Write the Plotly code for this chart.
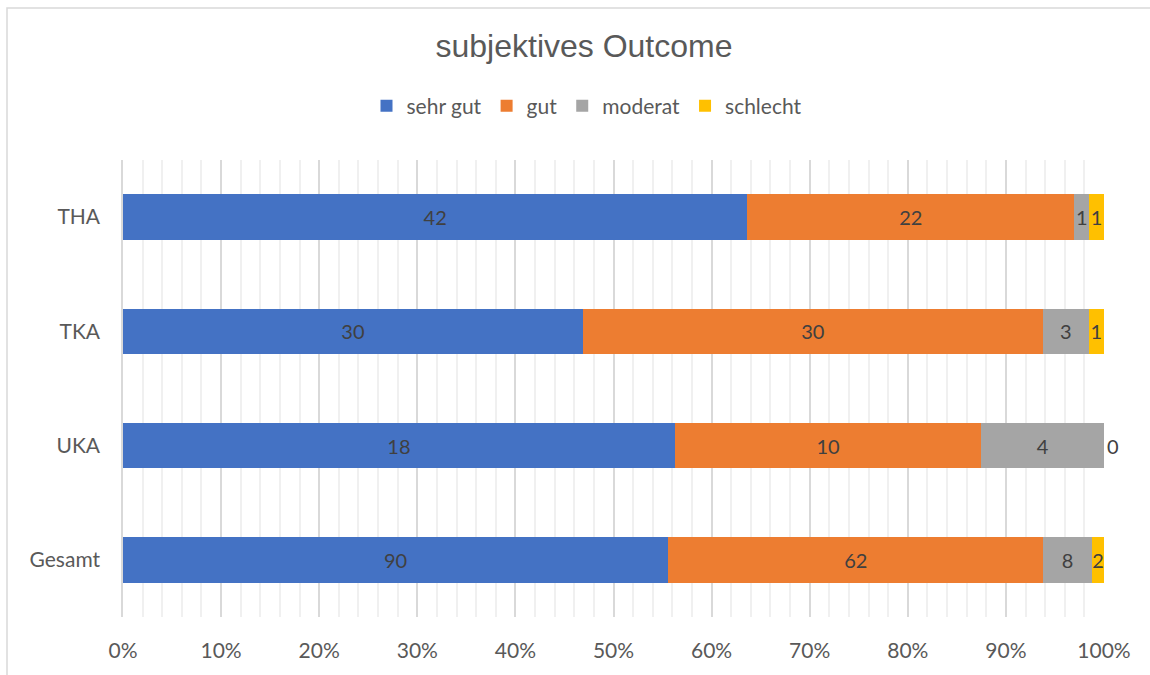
import plotly.graph_objects as go

categories = ["THA", "TKA", "UKA", "Gesamt"]
sehr_gut = [42, 30, 18, 90]
gut = [22, 30, 10, 62]
moderat = [1, 3, 4, 8]
schlecht = [1, 1, 0, 2]
tick_vals = [0, 10, 20, 30, 40, 50, 60, 70, 80, 90, 100]
tick_text = ["0%", "10%", "20%", "30%", "40%", "50%", "60%", "70%", "80%", "90%", "100%"]

series = [
    ("sehr gut", sehr_gut, "#4472C4"),
    ("gut", gut, "#ED7D31"),
    ("moderat", moderat, "#A5A5A5"),
    ("schlecht", schlecht, "#FFC000"),
]

FONT = "Lato, 'Open Sans', sans-serif"
TXT = "#404040"

fig = go.Figure()
for name, vals, col in series:
    positions = ["outside" if v == 0 else "inside" for v in vals]
    fig.add_trace(go.Bar(
        name=name, y=categories, x=vals, orientation="h",
        marker=dict(color=col, line=dict(width=0)),
        text=[str(v) for v in vals], textposition=positions,
        insidetextanchor="middle", constraintext="none",
        textfont=dict(color=TXT, size=20, family=FONT),
        outsidetextfont=dict(color=TXT, size=20, family=FONT),
        cliponaxis=False,
    ))

L, R, T, B = 123, 1104, 160, 617
pw, ph = R - L, B - T

fig.update_layout(
    width=1150, height=675,
    margin=dict(l=L, r=1150 - R, t=T, b=675 - B, pad=0),
    barmode="stack", barnorm="percent", bargap=0.6,
    paper_bgcolor="white", plot_bgcolor="white",
    uniformtext=dict(minsize=20, mode="show"),
    font=dict(family=FONT, color="#595959", size=21),
    title=dict(text="subjektives Outcome", x=(584 - L) / pw, xref="paper",
               xanchor="center", y=1 - 46 / 675, yanchor="middle",
               font=dict(family="'Liberation Sans', Arial, sans-serif", size=32, color="#595959")),
    legend=dict(orientation="h", x=(587 - L) / pw, xanchor="center", y=(B - 106) / ph,
                yanchor="middle", xref="paper", yref="paper",
                font=dict(family=FONT, size=21, color="#595959"),
                traceorder="normal", itemwidth=30, bgcolor="rgba(0,0,0,0)"),
    xaxis=dict(range=[0, 100], tickvals=tick_vals, ticktext=tick_text,
               showgrid=True, gridcolor="#d9d9d9", gridwidth=1.5,
               minor=dict(dtick=2, showgrid=True, gridcolor="#f0f0f0", gridwidth=1.5),
               zeroline=False, showline=False, ticks="",
               tickfont=dict(size=21, color="#595959", family=FONT), ticklabelstandoff=19),
    yaxis=dict(autorange="reversed", showgrid=False, zeroline=False,
               showline=True, linecolor="#d9d9d9", linewidth=1.5,
               ticks="", ticklabelstandoff=17,
               tickfont=dict(size=21, color="#595959", family=FONT)),
    shapes=[dict(type="rect", xref="paper", yref="paper",
                 x0=(7 - L) / pw, x1=(1165 - L) / pw,
                 y0=(B - 690) / ph, y1=(B - 8) / ph,
                 line=dict(color="#d9d9d9", width=1.5), fillcolor="rgba(0,0,0,0)", layer="below")],
)

fig.write_html("out.html")
